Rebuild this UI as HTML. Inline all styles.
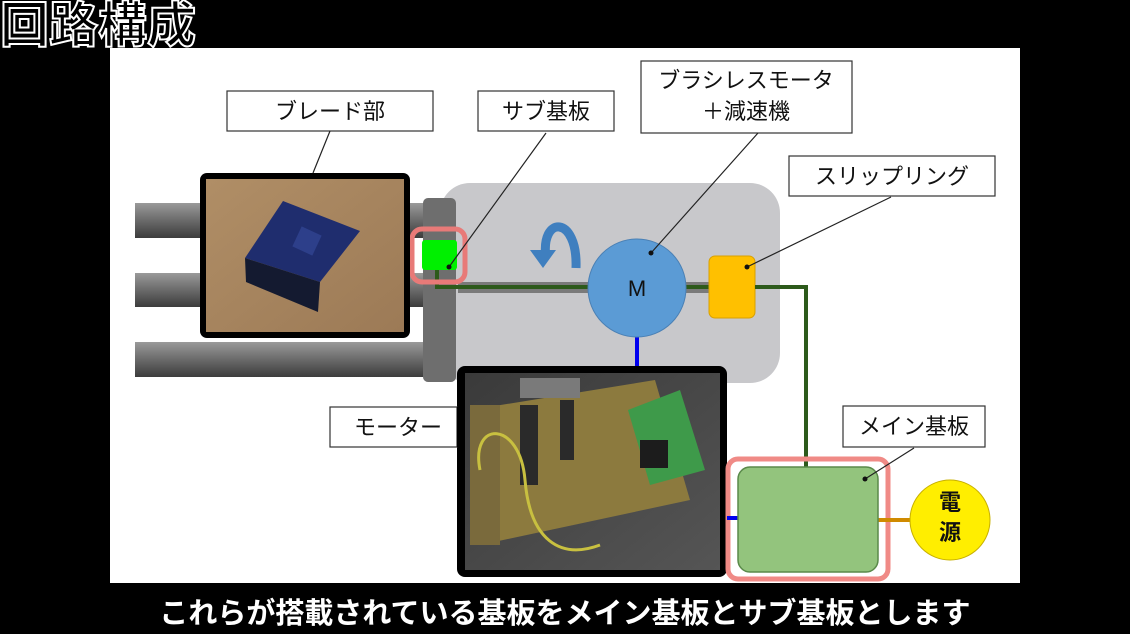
<!DOCTYPE html>
<html><head><meta charset="utf-8"><style>
html,body{margin:0;padding:0;background:#000;}
body{width:1130px;height:634px;overflow:hidden;position:relative;font-family:"Liberation Sans","Noto Sans CJK JP",sans-serif;}
svg{position:absolute;left:0;top:0;}
</style></head><body>
<svg width="1130" height="634" viewBox="0 0 1130 634" xmlns="http://www.w3.org/2000/svg">
<defs>
<linearGradient id="rod" x1="0" y1="0" x2="0" y2="1">
<stop offset="0" stop-color="#9a9a9a"/><stop offset="0.5" stop-color="#6a6a6a"/><stop offset="1" stop-color="#3c3c3c"/>
</linearGradient>
<linearGradient id="brown" x1="0" y1="0" x2="1" y2="1">
<stop offset="0" stop-color="#b08e66"/><stop offset="1" stop-color="#9c7a56"/>
</linearGradient>
<linearGradient id="dark" x1="0" y1="0" x2="1" y2="1">
<stop offset="0" stop-color="#3a3a3a"/><stop offset="1" stop-color="#555"/>
</linearGradient>
</defs>
<rect x="0" y="0" width="1130" height="634" fill="#000"/>
<rect x="110" y="48" width="910" height="535" fill="#fff"/>
<text x="0" y="42" font-size="49" font-weight="bold" fill="#000" stroke="#fff" stroke-width="2" font-family="Liberation Sans, Noto Sans CJK JP, sans-serif">回路構成</text>

<rect x="135" y="203" width="290" height="35" fill="url(#rod)"/>
<rect x="135" y="273" width="290" height="34" fill="url(#rod)"/>
<rect x="135" y="342" width="290" height="35" fill="url(#rod)"/>
<rect x="440" y="183" width="340" height="200" rx="30" fill="#c8c8cb"/>
<rect x="423" y="198" width="33" height="184" rx="5" fill="#6e6e6e"/>
<rect x="458" y="282" width="252" height="11" fill="#7a7a7a"/>
<path d="M437 270 V287 H710" fill="none" stroke="#2d5a1b" stroke-width="4"/>
<path d="M546 258 C540 215 578 215 576 268" fill="none" stroke="#3f7fbf" stroke-width="9"/>
<path d="M530 250 L556 250 L543 268 Z" fill="#3f7fbf"/>
<line x1="637" y1="336" x2="637" y2="372" stroke="#0000ee" stroke-width="4"/>
<circle cx="637" cy="288" r="49" fill="#5b9bd5" stroke="#4a80b5" stroke-width="1"/>
<text x="637" y="296" font-size="22" text-anchor="middle" fill="#111">M</text>
<rect x="709" y="256" width="46" height="62" rx="6" fill="#ffc000" stroke="#d9a000"/>
<path d="M755 287 H806 V468" fill="none" stroke="#2d5a1b" stroke-width="4"/>
<rect x="412" y="229" width="53" height="53" rx="10" fill="none" stroke="#e87a78" stroke-width="5"/>
<rect x="422" y="240" width="35" height="30" rx="3" fill="#00f000"/>
<rect x="200" y="173" width="210" height="165" rx="7" fill="#000"/>
<rect x="206" y="179" width="198" height="153" fill="url(#brown)"/>
<polygon points="283,201 360,231 320,282 245,258" fill="#1f2d6e"/>
<polygon points="245,258 320,282 318,312 246,282" fill="#141a30"/>
<rect x="296" y="230" width="22" height="22" fill="#2d3f8a" transform="rotate(25 307 241)"/>
<rect x="457" y="366" width="270" height="211" rx="8" fill="#000"/>
<rect x="465" y="373" width="255" height="197" fill="url(#dark)"/>
<polygon points="470,410 655,380 690,500 480,545" fill="#8c7a3e"/>
<rect x="470" y="405" width="30" height="140" fill="#7a6a3c"/>
<polygon points="628,410 680,390 705,470 650,485" fill="#3e9a4a"/>
<rect x="640" y="440" width="28" height="28" fill="#1c1c1c"/>
<rect x="520" y="405" width="18" height="80" fill="#2a2a2a"/>
<rect x="560" y="400" width="14" height="60" fill="#2a2a2a"/>
<rect x="520" y="378" width="60" height="20" fill="#7a7a7a"/>
<path d="M480 470 C470 420 520 420 525 480 C530 540 560 560 600 545" fill="none" stroke="#c8c040" stroke-width="3"/>
<rect x="728" y="459" width="160" height="120" rx="10" fill="none" stroke="#f08a86" stroke-width="5"/>
<line x1="727" y1="518" x2="738" y2="518" stroke="#0000ee" stroke-width="4"/>
<line x1="878" y1="520" x2="912" y2="520" stroke="#d08a00" stroke-width="4"/>
<rect x="738" y="467" width="140" height="105" rx="12" fill="#93c47d" stroke="#5a8a4a" stroke-width="1.5"/>
<ellipse cx="950" cy="520" rx="40" ry="40" fill="#ffee00" stroke="#c8b000" stroke-width="1"/>
<text x="950" y="510" font-size="22" text-anchor="middle" fill="#111" font-weight="bold">電</text>
<text x="950" y="540" font-size="22" text-anchor="middle" fill="#111" font-weight="bold">源</text>
<g fill="#fff" stroke="#333" stroke-width="1.2">
<rect x="227" y="91" width="206" height="40"/>
<rect x="478" y="91" width="136" height="40"/>
<rect x="641" y="61" width="211" height="72"/>
<rect x="789" y="156" width="206" height="40"/>
<rect x="843" y="406" width="142" height="41"/>
<rect x="330" y="407" width="127" height="40"/>
</g>
<g font-size="22" fill="#111" text-anchor="middle">
<text x="330" y="119">ブレード部</text>
<text x="546" y="119">サブ基板</text>
<text x="746" y="88">ブラシレスモータ</text>
<text x="746" y="119">＋減速機</text>
<text x="892" y="184">スリップリング</text>
<text x="914" y="434">メイン基板</text>
</g>
<text x="354" y="435" font-size="22" fill="#111">モーター</text>
<rect x="457" y="407" width="8" height="40" fill="#000"/>
<g stroke="#222" stroke-width="1.2">
<line x1="330" y1="131" x2="313" y2="173"/>
<line x1="546" y1="133" x2="449" y2="267"/>
<line x1="758" y1="133" x2="651" y2="253"/>
<line x1="891" y1="197" x2="747" y2="267"/>
<line x1="914" y1="448" x2="865" y2="479"/>
</g>
<g fill="#111"><circle cx="449" cy="267" r="2.5"/><circle cx="651" cy="253" r="2.5"/><circle cx="747" cy="267" r="2.5"/><circle cx="865" cy="479" r="2.5"/></g>
<text x="565" y="623" font-size="29" font-weight="bold" fill="#fff" text-anchor="middle">これらが搭載されている基板をメイン基板とサブ基板とします</text>
</svg>
</body></html>
